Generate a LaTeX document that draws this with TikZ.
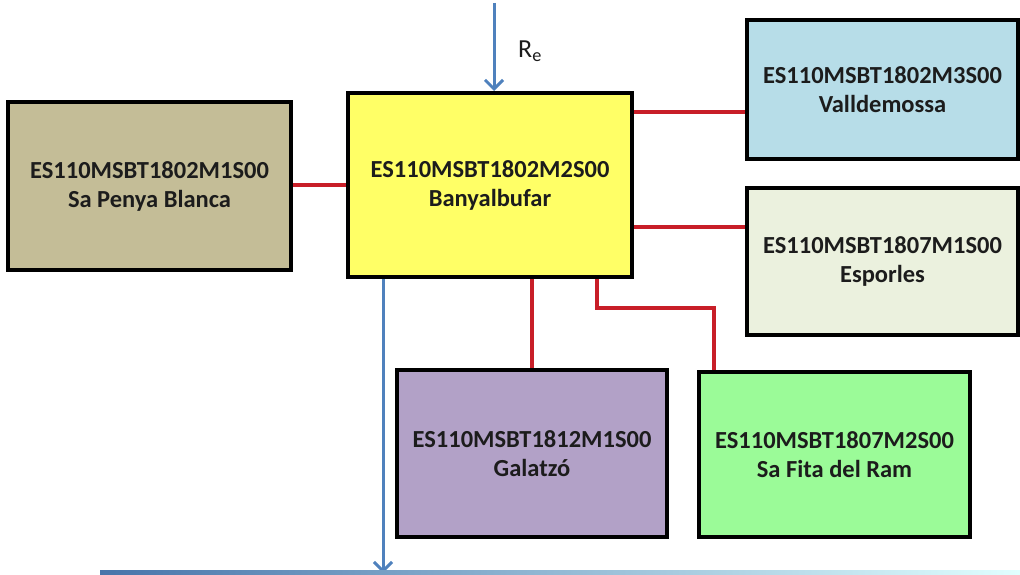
\documentclass[tikz,border=0pt]{standalone}
\usepackage{fontspec}
\setmainfont{Carlito}
\usetikzlibrary{arrows.meta}
\definecolor{boxtan}{HTML}{C4BD97}
\definecolor{boxyellow}{HTML}{FFFF66}
\definecolor{boxblue}{HTML}{B7DDE8}
\definecolor{boxcream}{HTML}{EBF1DE}
\definecolor{boxpurple}{HTML}{B2A1C7}
\definecolor{boxgreen}{HTML}{9BFB98}
\definecolor{linkred}{RGB}{200,30,40}
\definecolor{flowblue}{HTML}{4F81BD}
\definecolor{txtdark}{HTML}{1C1C1C}
\tikzset{
  unitbox/.style={draw=black, line width=4pt, rectangle, align=center,
    text=txtdark, font=\fontsize{24.5}{29}\selectfont\bfseries, inner sep=0pt},
  link/.style={draw=linkred, line width=3.8pt},
  flow/.style={draw=flowblue, line width=3pt, -{Straight Barb[length=9pt,width=18pt,line width=3pt]}}
}
\begin{document}
\begin{tikzpicture}[x=1pt,y=-1pt]
\useasboundingbox (0,0) rectangle (1020,575);
% boxes
\node[unitbox, fill=boxyellow, minimum width=284pt, minimum height=184pt] (yellow) at (490,185) {ES110MSBT1802M2S00\\Banyalbufar};
\node[unitbox, fill=boxtan, minimum width=283pt, minimum height=168pt] (left) at (149.5,186) {ES110MSBT1802M1S00\\Sa Penya Blanca};
\node[unitbox, fill=boxblue, minimum width=271pt, minimum height=139pt] (vall) at (882.5,89.5) {ES110MSBT1802M3S00\\Valldemossa};
\node[unitbox, fill=boxcream, minimum width=271pt, minimum height=147pt] (espo) at (882.5,261.5) {ES110MSBT1807M1S00\\Esporles};
\node[unitbox, fill=boxpurple, minimum width=270pt, minimum height=167pt] (gala) at (532,453.5) {ES110MSBT1812M1S00\\Galatzó};
\node[unitbox, fill=boxgreen, minimum width=271pt, minimum height=165pt] (fita) at (834.5,454.5) {ES110MSBT1807M2S00\\Sa Fita del Ram};
% red links
\coordinate (v1) at (0,112);
\coordinate (e1) at (0,227);
\coordinate (g1) at (597,308);
\coordinate (g2) at (714,308);
\draw[link] (left.east |- 0,185) -- (yellow.west |- 0,185);
\draw[link] (yellow.east |- v1) -- (vall.west |- v1);
\draw[link] (yellow.east |- e1) -- (espo.west |- e1);
\draw[link] (gala.north |- yellow.south) -- (gala.north);
\draw[link] (yellow.south -| g1) -- (g1) -- (g2) -- (g2 |- fita.north);
% blue flows
\coordinate (topin) at (494,3);
\draw[flow] (topin) -- (topin |- yellow.north);
\node[font=\fontsize{26}{28}\selectfont, text=txtdark, anchor=base west, inner sep=0pt] (re) at (518,58) {R\textsubscript{e}};
\coordinate (botout) at (383,573);
\draw[flow] (yellow.south -| botout) -- (botout);
% bottom band
\shade[left color=flowblue!90!black, middle color=cyan!40!white, right color=cyan!12!white] (100,570) rectangle (1020,576);
\end{tikzpicture}
\end{document}
